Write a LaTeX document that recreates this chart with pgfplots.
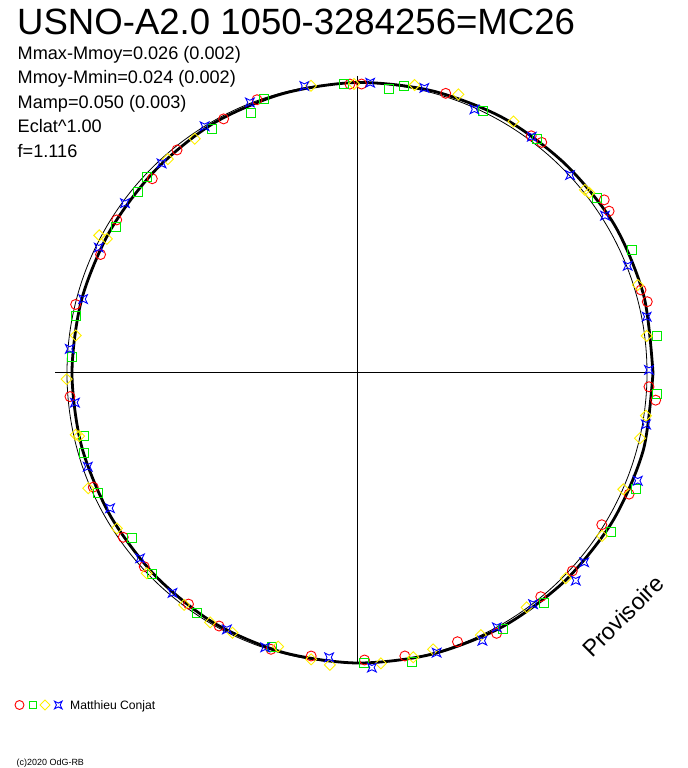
\documentclass[border=0pt]{standalone}
\usepackage{pgfplots}
\pgfplotsset{compat=1.18}
\usepackage{fontspec}
\setmainfont{Liberation Sans}

\definecolor{pred}{RGB}{255,0,0}
\definecolor{pgreen}{RGB}{0,235,0}
\definecolor{pyellow}{RGB}{255,240,0}
\definecolor{pblue}{RGB}{0,0,255}

% four-point star with concave sides (blue points)
\pgfdeclareplotmark{qstar}{%
  \pgfpathmoveto{\pgfqpoint{-\pgfplotmarksize}{-\pgfplotmarksize}}%
  \pgfpathlineto{\pgfqpoint{0pt}{-0.5\pgfplotmarksize}}%
  \pgfpathlineto{\pgfqpoint{\pgfplotmarksize}{-\pgfplotmarksize}}%
  \pgfpathlineto{\pgfqpoint{0.5\pgfplotmarksize}{0pt}}%
  \pgfpathlineto{\pgfqpoint{\pgfplotmarksize}{\pgfplotmarksize}}%
  \pgfpathlineto{\pgfqpoint{0pt}{0.5\pgfplotmarksize}}%
  \pgfpathlineto{\pgfqpoint{-\pgfplotmarksize}{\pgfplotmarksize}}%
  \pgfpathlineto{\pgfqpoint{-0.5\pgfplotmarksize}{0pt}}%
  \pgfpathclose
  \pgfusepathqstroke}
% square diamond
\pgfdeclareplotmark{rdiamond}{%
  \pgfpathmoveto{\pgfqpoint{0pt}{\pgfplotmarksize}}%
  \pgfpathlineto{\pgfqpoint{\pgfplotmarksize}{0pt}}%
  \pgfpathlineto{\pgfqpoint{0pt}{-\pgfplotmarksize}}%
  \pgfpathlineto{\pgfqpoint{-\pgfplotmarksize}{0pt}}%
  \pgfpathclose
  \pgfusepathqstroke}

\begin{document}
\begin{tikzpicture}
\begin{axis}[
    scale only axis,
    width=688bp, height=768bp,
    xmin=-357, xmax=331,
    ymin=-395, ymax=373,
    hide axis,
    clip=false,
]
\path (rel axis cs:0,0) rectangle (rel axis cs:1,1);

% red circles (angle in degrees, radius)
\addplot[only marks, data cs=polar, mark=o, mark size=5bp, mark options={pred, line width=0.9bp}] table {
ang r
91.4 289
89.1 289
110.1 291
117.7 287
128.9 286.6
136.5 282.2
147.5 284.9
155.2 282.5
166.3 289.6
184.7 288
203.4 287.4
215.1 285.7
222.3 287.7
233.9 286
241.4 288.2
252.7 289.4
260.8 286.7
271.5 287.1
279.6 287
290.5 286.9
298.2 295.4
309.4 289.5
317.4 292.5
328.2 288
336 297.8
354.8 299.9
357.3 292.3
13.8 298.9
16.3 295.9
32.7 299.6
35 301.8
51.3 295.5
53.7 294.3
72.4 293.4
};

% green squares
\addplot[only marks, data cs=polar, mark=square, mark size=4.5bp, mark options={pgreen, line width=0.9bp}] table {
ang r
92.6 289.3
83.6 285.8
80.7 291.2
108.8 289
112.2 280.5
120.8 283.7
136.9 287.5
140.4 284.3
148.9 281.9
168.5 286.5
176.7 285.2
192.9 280.1
196.3 284.4
204.8 285.6
216.3 279.4
224.5 286.9
236.2 288.4
252.8 287.1
271.4 290.4
280.8 294.5
299.6 294.9
309.1 296.9
327.9 299.4
337.4 302.2
356 300.4
7.1 302
24.1 301
36.2 297
52.4 294.8
64.3 290.9
};

% yellow diamonds
\addplot[only marks, data cs=polar, mark=rdiamond, mark size=5.5bp, mark options={pyellow, line width=0.9bp}] table {
ang r
99.1 291
90.6 289
78.7 293.6
70 296.5
58.1 296.2
38.8 292.4
37.8 294
17.4 294.2
7.3 292.1
351.6 292.1
347 290.4
336.4 290.6
326.4 294.4
315.5 292.7
305.9 289.3
295.3 289.9
285.4 286.7
281.2 289.8
274.7 291.3
264.7 293.2
260.9 290
253.9 284.8
244.4 288.1
239.5 289.4
233.3 289.2
223.6 290.4
212.9 286.1
203.2 292.4
192.4 288
192.8 285
181.2 290.4
172.4 283.8
151.9 292.2
151.8 283.9
131.5 285.5
124.7 285
};

% blue stars
\addplot[only marks, data cs=polar, mark=qstar, mark size=4.3bp, mark options={pblue, line width=0.9bp}] table {
ang r
100.4 291.8
87.4 290.6
76.7 293
111.6 291
121.7 290
133 286.6
143.8 287.6
154.1 287.1
164.9 283.7
175.2 288.3
186 283.6
199.2 285.1
208.7 281.6
220.5 285.3
230 287
243.1 287.5
251.5 289.3
264.4 285.7
272.9 295
285.9 290.8
295.1 295.6
298.8 290.2
307.3 290.6
316.5 301.6
320.2 295.8
339 300.7
349.9 293.5
0.6 292
11 295.1
21.6 291.2
32.4 293.7
42.9 290.8
53.5 294
66 288.6
};

% reference circle (mean magnitude)
\draw[black, line width=0.8bp] (axis cs:0,0) circle[radius=290];

% mean light curve
\addplot[black, line width=2.8bp, smooth, data cs=polar] table {
ang r
0 296
15 297
30 297
45 295
60 294
75 292
90 290.5
105 289
120 288
135 286
150 285
165 285
180 285
195 285
210 285
225 286
240 288
255 289
270 290
285 291
300 292.5
315 294
330 295.5
345 296.5
360 296
};

% axes through the centre
\draw[black, line width=1bp] (axis cs:-302,0) -- (axis cs:290,0);
\draw[black, line width=1bp] (axis cs:0,297) -- (axis cs:0,-290);

% legend symbols
\addplot[only marks, mark=o, mark size=4.5bp, mark options={pred, line width=0.9bp}] coordinates {(-337.5,-332)};
\addplot[only marks, mark=square, mark size=3.5bp, mark options={pgreen, line width=0.9bp}] coordinates {(-324.3,-332)};
\addplot[only marks, mark=rdiamond, mark size=5bp, mark options={pyellow, line width=0.9bp}] coordinates {(-312,-332)};
\addplot[only marks, mark=qstar, mark size=3.8bp, mark options={pblue, line width=0.9bp}] coordinates {(-298.7,-332)};

% texts
\node[anchor=base west, inner sep=0pt, font=\fontsize{36.7}{37}\selectfont] at (axis cs:-340,338) {USNO-A2.0 1050-3284256=MC26};
\begin{scope}[every node/.style={anchor=base west, inner sep=0pt, font=\fontsize{18.2}{19}\selectfont}]
\node at (axis cs:-339.5,313) {Mmax-Mmoy=0.026 (0.002)};
\node at (axis cs:-339.5,289) {Mmoy-Mmin=0.024 (0.002)};
\node at (axis cs:-339.5,264.7) {Mamp=0.050 (0.003)};
\node at (axis cs:-339.5,240.3) {Eclat\textasciicircum 1.00};
\node at (axis cs:-339.5,215.7) {f=1.116};
\end{scope}
\node[anchor=base west, inner sep=0pt, font=\fontsize{12.2}{12}\selectfont] at (axis cs:-287,-336.3) {Matthieu Conjat};
\node[anchor=base west, inner sep=0pt, font=\fontsize{9}{9}\selectfont] at (axis cs:-340.5,-392) {(c)2020 OdG-RB};
\node[rotate=45, inner sep=0pt, font=\fontsize{23.5}{23.5}\selectfont] at (axis cs:266,-243) {Provisoire};
\end{axis}
\end{tikzpicture}
\end{document}
